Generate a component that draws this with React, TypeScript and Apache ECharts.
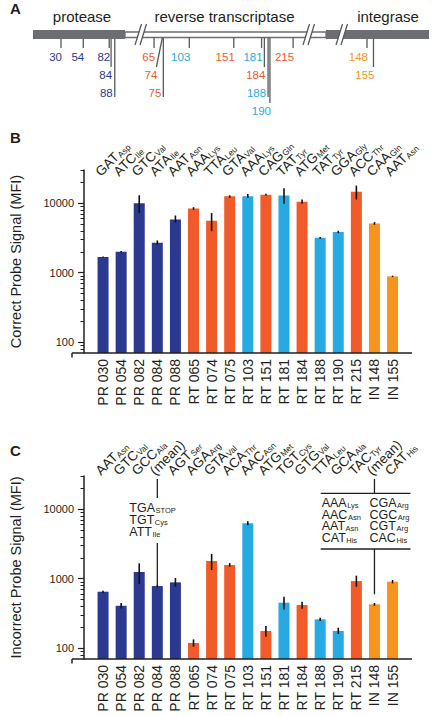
import React, { useEffect, useRef } from 'react';
import * as echarts from 'echarts';

const FONT = '"Liberation Sans", Arial, Helvetica, sans-serif';
const INK = '#231F20';

// ---------------- data ----------------
const categories = ['PR 030', 'PR 054', 'PR 082', 'PR 084', 'PR 088', 'RT 065', 'RT 074', 'RT 075', 'RT 103', 'RT 151', 'RT 181', 'RT 184', 'RT 188', 'RT 190', 'RT 215', 'IN 148', 'IN 155'];
const drugClass = ['PI', 'PI', 'PI', 'PI', 'PI', 'NRTI', 'NRTI', 'NRTI', 'NNRTI', 'NRTI', 'NNRTI', 'NRTI', 'NNRTI', 'NNRTI', 'NRTI', 'INI', 'INI'];
const markerRows = [1, 1, 1, 2, 3, 1, 2, 3, 1, 1, 1, 2, 3, 4, 1, 1, 2];
const regionNames = ['protease', 'reverse transcriptase', 'integrase'];

const correctCodons = ['GAT', 'ATC', 'GTC', 'ATA', 'AAT', 'AAA', 'TTA', 'GTA', 'AAA', 'CAG', 'TAT', 'ATG', 'TAT', 'GGA', 'ACC', 'CAA', 'AAT'];
const correctAmino = ['Asp', 'Ile', 'Val', 'Ile', 'Asn', 'Lys', 'Leu', 'Val', 'Lys', 'Gln', 'Tyr', 'Met', 'Tyr', 'Gly', 'Thr', 'Gln', 'Asn'];
const correctSignal = [1680, 2000, 10000, 2700, 5840, 8380, 5570, 12600, 12600, 13180, 12900, 10450, 3180, 3840, 14550, 5100, 886];
const correctLow = [1650, 1950, 7200, 2520, 5270, 8020, 3960, 12000, 12000, 12900, 9800, 9780, 3080, 3700, 11300, 4890, 866];
const correctHigh = [1710, 2050, 13000, 2910, 6650, 8760, 7200, 13000, 13500, 13700, 16400, 11300, 3250, 4010, 17900, 5340, 906];

const incorrectCodons = ['AAT', 'GTC', 'GCC', '(mean)', 'AGT', 'AGA', 'GTA', 'ACA', 'AAC', 'ATG', 'TGT', 'GTG', 'TTA', 'GCA', 'TAC', '(mean)', 'CAT'];
const incorrectAmino = ['Asn', 'Val', 'Ala', '', 'Ser', 'Arg', 'Val', 'Thr', 'Asn', 'Met', 'Cys', 'Val', 'Leu', 'Ala', 'Tyr', '', 'His'];
const incorrectSignal = [650, 408, 1247, 784, 886, 119, 1795, 1573, 6250, 177, 452, 418, 260, 177, 925, 428, 906];
const incorrectLow = [629, 374, 838, 750, 767, 105, 1333, 1488, 5850, 146, 362, 370, 246, 160, 767, 409, 857];
const incorrectHigh = [671, 447, 1663, 820, 1022, 134, 2265, 1680, 6680, 208, 551, 467, 275, 197, 1105, 447, 957];

const prMeanCodons = ['TGA', 'TGT', 'ATT'];
const prMeanAmino = ['STOP', 'Cys', 'Ile'];
const inMeanCodonsA = ['AAA', 'AAC', 'AAT', 'CAT'];
const inMeanAminoA = ['Lys', 'Asn', 'Asn', 'His'];
const inMeanCodonsB = ['CGA', 'CGC', 'CGT', 'CAC'];
const inMeanAminoB = ['Arg', 'Arg', 'Arg', 'His'];

const yMin = 70;
const yMax = 30000;
const yMajorTicks = [100, 1000, 10000];
const yMinorTicks = [80, 90, 200, 300, 400, 500, 600, 700, 800, 900, 2000, 3000, 4000, 5000, 6000, 7000, 8000, 9000, 20000, 30000];

// ---------------- styles / layout ----------------
const classColor: Record<string, string> = { PI: '#2B3990', NRTI: '#F15A29', NNRTI: '#27AAE1', INI: '#F7941D' };
const GRID_LEFT = 81.9;
const GRID_WIDTH = 319.7;
const GRID_H = 183;
const GRID_TOPS = [170, 476];
const AXIS_X = 72;
const AXIS_RIGHT = 412;

const codonLabel = (c: string, a: string) => (a ? `{c|${c}}{s|${a}}` : `{c|${c}}`);
const axisRich = {
  c: { fontSize: 13.5, lineHeight: 15, fontFamily: FONT, color: INK },
  s: { fontSize: 8.5, lineHeight: 15, fontFamily: FONT, color: INK, padding: [5, 0, 0, 0.5] },
};
const gfxRich = {
  c: { fontSize: 12.5, lineHeight: 11.7, fontFamily: FONT, fill: INK },
  s: { fontSize: 7.5, lineHeight: 11.7, fontFamily: FONT, fill: INK, padding: [5, 0, 0, 0.5] },
};

function majorY(gridIndex: number, name: string) {
  return {
    type: 'log', gridIndex, logBase: 10, min: yMin, max: yMax, startValue: yMin, position: 'left', offset: 10,
    name, nameLocation: 'middle', nameGap: 61, nameRotate: 90,
    nameTextStyle: { fontSize: 14.5, fontFamily: FONT, color: INK },
    axisLine: { show: true, lineStyle: { color: INK, width: 1.5 } },
    axisTick: { show: true, inside: false, length: 6, customValues: yMajorTicks, lineStyle: { color: INK, width: 1.2 } },
    axisLabel: { show: true, customValues: yMajorTicks, margin: 10, fontSize: 11, fontFamily: FONT, color: INK, formatter: (v: number) => String(Math.round(v)) },
    splitLine: { show: false },
  };
}
function minorY(gridIndex: number) {
  return {
    type: 'log', gridIndex, logBase: 10, min: yMin, max: yMax, position: 'left', offset: 10,
    axisLine: { show: false },
    axisTick: { show: true, inside: false, length: 3.5, customValues: yMinorTicks, lineStyle: { color: INK, width: 1 } },
    axisLabel: { show: false },
    splitLine: { show: false },
  };
}
function bottomX(gridIndex: number) {
  return {
    type: 'category', gridIndex, data: categories, position: 'bottom',
    axisLine: { show: false }, axisTick: { show: false },
    axisLabel: { interval: 0, rotate: 90, margin: 6, fontSize: 14, fontFamily: FONT, color: INK },
  };
}
function topX(gridIndex: number, codons: string[], aminos: string[], margin: number) {
  return {
    type: 'category', gridIndex, data: categories, position: 'top',
    axisLine: { show: false }, axisTick: { show: false },
    axisLabel: {
      interval: 0, rotate: -45, margin, align: 'left', verticalAlign: 'bottom',
      formatter: (_v: string, i: number) => codonLabel(codons[i], aminos[i]), rich: axisRich,
    },
  };
}
function barSeries(xAxisIndex: number, yAxisIndex: number, values: number[]) {
  return {
    type: 'bar', xAxisIndex, yAxisIndex, barWidth: 11, clip: true, silent: true,
    data: values.map((v, i) => ({ value: v, itemStyle: { color: classColor[drugClass[i]] } })),
  };
}
function errSeries(xAxisIndex: number, yAxisIndex: number, low: number[], high: number[]) {
  return {
    type: 'custom', xAxisIndex, yAxisIndex, silent: true, z: 3,
    data: low.map((l, i) => [i, l, high[i]]),
    encode: { x: 0, y: [1, 2] },
    renderItem: (_p: any, api: any) => {
      const lo = api.coord([api.value(0), api.value(1)]);
      const hi = api.coord([api.value(0), api.value(2)]);
      return { type: 'line', shape: { x1: lo[0], y1: lo[1], x2: hi[0], y2: hi[1] }, style: { stroke: '#111', lineWidth: 1.6 } };
    },
  };
}

function buildOption() {
  return {
    animation: false,
    grid: GRID_TOPS.map((top) => ({ left: GRID_LEFT, width: GRID_WIDTH, top, height: GRID_H, containLabel: false })),
    xAxis: [bottomX(0), topX(0, correctCodons, correctAmino, -9), bottomX(1), topX(1, incorrectCodons, incorrectAmino, -2)],
    yAxis: [majorY(0, 'Correct Probe Signal (MFI)'), minorY(0), majorY(1, 'Incorrect Probe Signal (MFI)'), minorY(1)],
    series: [
      barSeries(0, 0, correctSignal),
      errSeries(0, 0, correctLow, correctHigh),
      barSeries(2, 2, incorrectSignal),
      errSeries(2, 2, incorrectLow, incorrectHigh),
    ],
  };
}

// panel A layout
const SEG_ORIGIN: Record<string, number> = { PR: 33.2, RT: 93.8, IN: 229.8 };
const PX_PER_RES = 0.927;
const ROW_Y = [56.7, 75, 93.3, 110.7];
const ROW_LINE_END = [48, 67, 97, 103];
const LEAN: Record<string, number> = { 'RT 074': 6 };
const GRAY = '#6D6E71';
const TICK_GRAY = '#58595B';

function buildGraphics(chart: any) {
  const els: any[] = [];
  const txt = (x: number, y: number, text: string, o: any = {}) => ({
    type: 'text', x, y, silent: true, z: 100,
    style: { text, fontFamily: FONT, fill: INK, fontSize: 12, ...o },
  });
  const line = (x1: number, y1: number, x2: number, y2: number, stroke = INK, lineWidth = 1.3) => ({
    type: 'line', silent: true, z: 100, shape: { x1, y1, x2, y2 }, style: { stroke, lineWidth },
  });

  // panel letters
  els.push(txt(10, 8.5, 'A', { fontSize: 15, fontWeight: 'bold', verticalAlign: 'middle' }));
  els.push(txt(10, 137, 'B', { fontSize: 15, fontWeight: 'bold', verticalAlign: 'middle' }));
  els.push(txt(10, 450, 'C', { fontSize: 15, fontWeight: 'bold', verticalAlign: 'middle' }));

  // panel A genome schematic
  const regionX = [82, 224.5, 388];
  regionNames.forEach((n, i) => els.push(txt(regionX[i], 16, n, { fontSize: 15, align: 'center', verticalAlign: 'middle' })));
  els.push({ type: 'rect', silent: true, z: 100, shape: { x: 33, y: 30, width: 92, height: 9 }, style: { fill: GRAY } });
  els.push({ type: 'rect', silent: true, z: 100, shape: { x: 125, y: 32, width: 201, height: 5.5 }, style: { fill: '#fff', stroke: GRAY, lineWidth: 1.3 } });
  els.push({ type: 'rect', silent: true, z: 100, shape: { x: 326, y: 30, width: 103, height: 9 }, style: { fill: GRAY } });
  [135, 303, 336].forEach((bx) => {
    els.push({ type: 'polygon', silent: true, z: 101, shape: { points: [[bx, 45], [bx + 6.5, 24], [bx + 11.5, 24], [bx + 5, 45]] }, style: { fill: '#fff' } });
    els.push({ ...line(bx, 45, bx + 6.5, 24, TICK_GRAY, 1.3), z: 102 });
    els.push({ ...line(bx + 5, 45, bx + 11.5, 24, TICK_GRAY, 1.3), z: 102 });
  });
  categories.forEach((cat, i) => {
    const [seg, num] = cat.split(' ');
    const x = SEG_ORIGIN[seg] + PX_PER_RES * parseInt(num, 10);
    const row = markerRows[i] - 1;
    const lean = LEAN[cat] || 0;
    const y0 = seg === 'RT' ? 37.5 : 39;
    const xEnd = x - lean;
    els.push({ ...line(x, y0, xEnd, ROW_LINE_END[row], TICK_GRAY, 1.3), z: 102 });
    const dx = row === 2 ? -2 : 1;
    els.push(txt(xEnd + dx, ROW_Y[row], String(parseInt(num, 10)), { fontSize: 11.5, fill: classColor[drugClass[i]], align: 'right', verticalAlign: 'middle' }));
  });

  // axis lines (x baseline + y extension)
  GRID_TOPS.forEach((top) => {
    const b = top + GRID_H;
    els.push(line(AXIS_X, b, AXIS_RIGHT, b, INK, 1.5));
    els.push(line(AXIS_X, b, AXIS_X, b + 4.5, INK, 1.5));
  });

  // panel C callouts
  const pr = chart.convertToPixel({ seriesIndex: 2 }, [3, incorrectSignal[3]]);
  const inn = chart.convertToPixel({ seriesIndex: 2 }, [15, incorrectSignal[15]]);
  els.push(line(pr[0], 479, pr[0], 498, INK, 1.3));
  els.push(line(pr[0], 543, pr[0], pr[1], INK, 1.3));
  els.push(txt(129.3, 502.5, prMeanCodons.map((c, i) => codonLabel(c, prMeanAmino[i])).join('\n'), { rich: gfxRich, verticalAlign: 'top' }));

  els.push(line(inn[0], 479, inn[0], 493.3, INK, 1.3));
  els.push(line(320.7, 493.3, 410.5, 493.3, INK, 1.3));
  els.push(line(320.7, 549, 410.5, 549, INK, 1.3));
  els.push(line(inn[0], 549, inn[0], inn[1] - 10, INK, 1.3));
  els.push(txt(321.7, 497, inMeanCodonsA.map((c, i) => codonLabel(c, inMeanAminoA[i])).join('\n'), { rich: gfxRich, verticalAlign: 'top' }));
  els.push(txt(369.5, 497, inMeanCodonsB.map((c, i) => codonLabel(c, inMeanAminoB[i])).join('\n'), { rich: gfxRich, verticalAlign: 'top' }));

  return els;
}

export default function App() {
  const ref = useRef<HTMLDivElement>(null);
  useEffect(() => {
    document.body.style.margin = '0';
    const chart = echarts.init(ref.current!, undefined, { renderer: 'svg' });
    chart.setOption(buildOption() as any);
    chart.setOption({ graphic: { elements: buildGraphics(chart) } } as any);
    return () => chart.dispose();
  }, []);
  return <div ref={ref} style={{ width: 432, height: 716, background: '#fff' }} />;
}
